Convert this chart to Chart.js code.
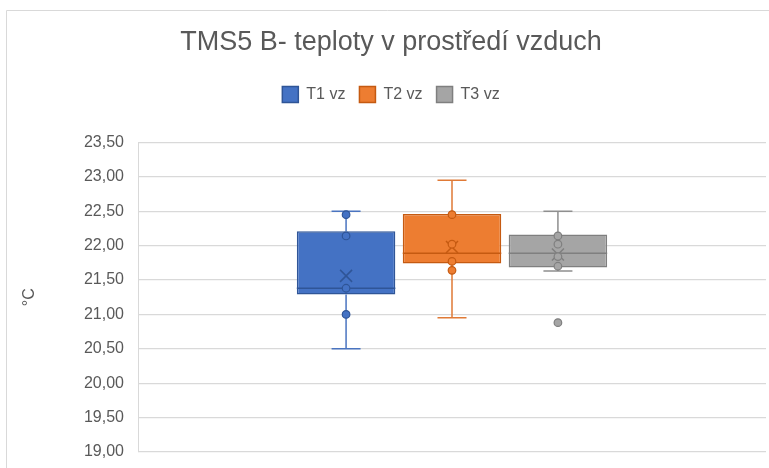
<!DOCTYPE html>
<html>
<head>
<meta charset="utf-8">
<script src="https://cdn.jsdelivr.net/npm/chart.js@4/dist/chart.umd.min.js"></script>
<style>
  html, body { margin: 0; padding: 0; background: #fff; }
  #wrap { width: 769px; height: 468px; }
</style>
</head>
<body>
<div id="wrap"><canvas id="myChart" width="769" height="468"></canvas></div>
<script>
// data
const categories = [''];
const seriesNames = ['T1 vz', 'T2 vz', 'T3 vz'];
const q1 = [21.29, 21.74, 21.68];
const q3 = [22.21, 22.46, 22.16];
const medians = [21.38, 21.89, 21.89];
const means = [21.56, 21.98, 21.87];
const whiskerLow = [20.50, 20.95, 21.63];
const whiskerHigh = [22.50, 22.95, 22.50];
const innerPoints = [
    [22.45, 22.14, 21.38, 21.00],
    [22.45, 22.02, 21.77, 21.64],
    [22.14, 22.02, 21.84, 21.70]
];
const outliers = [[], [], [20.88]];
const yTicks = { min: 19, max: 23.5, step: 0.5 };

const fillColors = ['#4472C4', '#ED7D31', '#A5A5A5'];
const edgeColors = ['#2F5597', '#C55A11', '#7F7F7F'];
const lineColors = ['#4A74C0', '#E07A36', '#8F8F8F'];

const boxExtras = {
    id: 'boxExtras',
    afterDatasetsDraw(chart) {
        const ctx = chart.ctx;
        const y = chart.scales.y;
        chart.data.datasets.forEach(function (ds, i) {
            const bar = chart.getDatasetMeta(i).data[0];
            const x = bar.x;
            const half = bar.width / 2;
            const cap = 14.5;
            ctx.save();
            // whiskers
            ctx.strokeStyle = lineColors[i];
            ctx.lineWidth = 1.5;
            ctx.beginPath();
            ctx.moveTo(x, y.getPixelForValue(q3[i]));
            ctx.lineTo(x, y.getPixelForValue(whiskerHigh[i]));
            ctx.moveTo(x, y.getPixelForValue(q1[i]));
            ctx.lineTo(x, y.getPixelForValue(whiskerLow[i]));
            ctx.moveTo(x - cap, y.getPixelForValue(whiskerHigh[i]));
            ctx.lineTo(x + cap, y.getPixelForValue(whiskerHigh[i]));
            ctx.moveTo(x - cap, y.getPixelForValue(whiskerLow[i]));
            ctx.lineTo(x + cap, y.getPixelForValue(whiskerLow[i]));
            ctx.stroke();
            // median
            ctx.strokeStyle = edgeColors[i];
            ctx.beginPath();
            ctx.moveTo(x - half, y.getPixelForValue(medians[i]));
            ctx.lineTo(x + half, y.getPixelForValue(medians[i]));
            ctx.stroke();
            // mean marker
            const my = y.getPixelForValue(means[i]);
            ctx.beginPath();
            ctx.moveTo(x - 6, my - 6);
            ctx.lineTo(x + 6, my + 6);
            ctx.moveTo(x + 6, my - 6);
            ctx.lineTo(x - 6, my + 6);
            ctx.stroke();
            // points
            innerPoints[i].concat(outliers[i]).forEach(function (v) {
                ctx.beginPath();
                ctx.arc(x, y.getPixelForValue(v), 3.8, 0, Math.PI * 2);
                ctx.fillStyle = fillColors[i];
                ctx.fill();
                ctx.lineWidth = 1.2;
                ctx.strokeStyle = edgeColors[i];
                ctx.stroke();
            });
            ctx.restore();
        });
    }
};

const frame = {
    id: 'frame',
    beforeDraw(chart) {
        const ctx = chart.ctx;
        ctx.save();
        ctx.strokeStyle = '#D9D9D9';
        ctx.lineWidth = 1;
        ctx.beginPath();
        ctx.moveTo(6.5, chart.height);
        ctx.lineTo(6.5, 10.5);
        ctx.lineTo(chart.width, 10.5);
        ctx.stroke();
        ctx.restore();
    },
    beforeLayout(chart) {
        const lg = chart.legend;
        if (lg && !lg._wrapped) {
            const fit = lg.fit;
            lg.fit = function () {
                fit.call(this);
                this.height += 30;
            };
            lg._wrapped = true;
        }
    }
};

const datasets = seriesNames.map(function (name, i) {
    return {
        label: name,
        data: [[q1[i], q3[i]]],
        backgroundColor: fillColors[i],
        borderColor: edgeColors[i],
        borderWidth: 1.5,
        borderSkipped: false
    };
});

const ctx = document.getElementById('myChart');
const myChart = new Chart(ctx, {
    type: 'bar',
    data: { labels: categories, datasets: datasets },
    options: {
        responsive: false,
        animation: false,
        categoryPercentage: 0.506,
        barPercentage: 0.93,
        layout: { padding: { left: 16, right: 3, top: 0, bottom: 0 } },
        plugins: {
            title: {
                display: true,
                text: 'TMS5 B- teploty v prostředí vzduch',
                color: '#595959',
                font: { family: 'Liberation Sans', size: 27, weight: 'normal' },
                padding: { top: 26, bottom: 14 }
            },
            legend: {
                position: 'top',
                labels: {
                    boxWidth: 16,
                    boxHeight: 16,
                    padding: 14,
                    color: '#595959',
                    font: { family: 'Liberation Sans', size: 16 }
                }
            },
            tooltip: { enabled: false }
        },
        scales: {
            x: { display: false },
            y: {
                min: yTicks.min,
                max: yTicks.max,
                afterFit(scale) {
                    scale.width = 122;
                    scale.paddingTop = 16;
                    scale.paddingBottom = 16;
                },
                ticks: {
                    stepSize: yTicks.step,
                    color: '#595959',
                    padding: 14,
                    font: { family: 'Liberation Sans', size: 16 },
                    callback: function (v) { return v.toFixed(2).replace('.', ','); }
                },
                grid: { color: '#D9D9D9', lineWidth: 1.3, drawTicks: false },
                border: { display: true, color: '#D9D9D9' },
                title: {
                    display: true,
                    text: '°C',
                    color: '#595959',
                    font: { family: 'Liberation Sans', size: 16 },
                    padding: { top: 4 }
                }
            }
        }
    },
    plugins: [boxExtras, frame]
});
</script>
</body>
</html>
